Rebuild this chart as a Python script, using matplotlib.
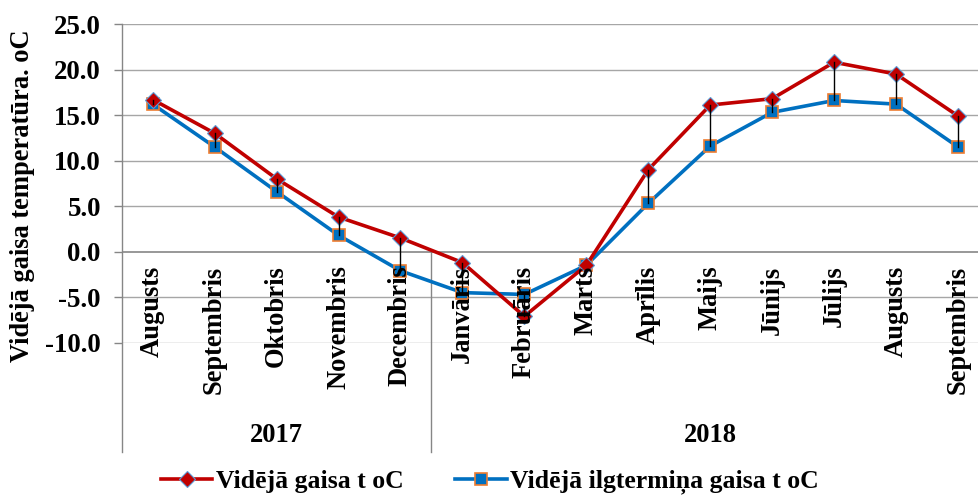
import matplotlib
matplotlib.use("Agg")
import matplotlib.pyplot as plt

months_2017 = ["Augusts", "Septembris", "Oktobris", "Novembris", "Decembris"]
months_2018 = ["Janvāris", "Februāris", "Marts", "Aprīlis", "Maijs", "Jūnijs",
               "Jūlijs", "Augusts", "Septembris"]
years = ["2017", "2018"]

avg_temp = [16.7, 13.0, 8.0, 3.8, 1.5, -1.2, -7.1, -1.5, 9.0, 16.1, 16.8, 20.8, 19.5, 14.9]
longterm_temp = [16.2, 11.5, 6.6, 1.8, -2.1, -4.5, -4.7, -1.5, 5.3, 11.6, 15.3, 16.6, 16.2, 11.5]

label_avg = "Vidējā gaisa t oC"
label_long = "Vidējā ilgtermiņa gaisa t oC"

plt.rcParams['font.family'] = ['Liberation Serif', 'DejaVu Serif']
plt.rcParams['font.weight'] = 'bold'
plt.rcParams['axes.unicode_minus'] = False

FS = 19.1
grid_c = '#A6A6A6'
axis_c = '#868686'

months = months_2017 + months_2018
x = list(range(len(months)))

fig = plt.figure(figsize=(9.79, 4.96), dpi=100)
ax = fig.add_axes([121.7 / 979, 1 - 342.7 / 496, 867.3 / 979, 318.7 / 496])

ax.set_xlim(-0.5, len(months) - 0.5)
ax.set_ylim(-10, 25)
ax.set_yticks(range(-10, 26, 5))
ax.yaxis.set_major_formatter(matplotlib.ticker.FormatStrFormatter('%.1f'))
ax.tick_params(axis='y', length=6, width=1, color=axis_c, pad=9, labelsize=19.4)
ax.set_xticks([])
for s in ax.spines.values():
    s.set_visible(False)

# gridlines
for v in range(-10, 26, 5):
    ax.axhline(v, color=axis_c if v == 0 else grid_c, lw=1.2 if v == 0 else 1.0, zorder=1)

# left axis line + category group separators
y_low = -22
ax.plot([-0.5, -0.5], [25, y_low], color=axis_c, lw=1.0, clip_on=False, zorder=1)
sep = len(months_2017) - 0.5
ax.plot([sep, sep], [0, y_low], color=axis_c, lw=1.0, clip_on=False, zorder=1)

# high-low lines
for i in x:
    ax.plot([i, i], [avg_temp[i], longterm_temp[i]], color='black', lw=1.0, zorder=6)

ax.plot(x, avg_temp, color='#C00000', lw=2.6, marker='D', markersize=8,
        markerfacecolor='#C00000', markeredgecolor='#5B9BD5', markeredgewidth=0.8,
        label=label_avg, zorder=4)
ax.plot(x, longterm_temp, color='#0070C0', lw=2.6, marker='s', markersize=9,
        markerfacecolor='#0070C0', markeredgecolor='#ED7D31', markeredgewidth=1.2,
        label=label_long, zorder=3)

# month labels
for i, m in enumerate(months):
    ax.annotate(m, xy=(i, 0), xytext=(0, -10), textcoords='offset points',
                rotation=90, ha='center', va='top', fontsize=FS,
                fontweight='bold', zorder=7, annotation_clip=False)

# year labels
ax.text((-0.5 + sep) / 2, -20.2, years[0], ha='center', va='center',
        fontsize=FS, fontweight='bold', clip_on=False)
ax.text((sep + len(months) - 0.5) / 2, -20.2, years[1], ha='center', va='center',
        fontsize=FS, fontweight='bold', clip_on=False)

fig.text(23 / 979, 1 - 196 / 496, "Vidējā gaisa temperatūra. oC", rotation=90,
         ha='center', va='center', fontsize=FS, fontweight='bold')

fig.legend(loc='center', bbox_to_anchor=(490 / 979, 1 - 482 / 496), ncol=2,
           frameon=False, fontsize=18.5, handlelength=2.0, handletextpad=0.15,
           columnspacing=2.0, borderpad=0)

fig.savefig("out.png", dpi=100)
